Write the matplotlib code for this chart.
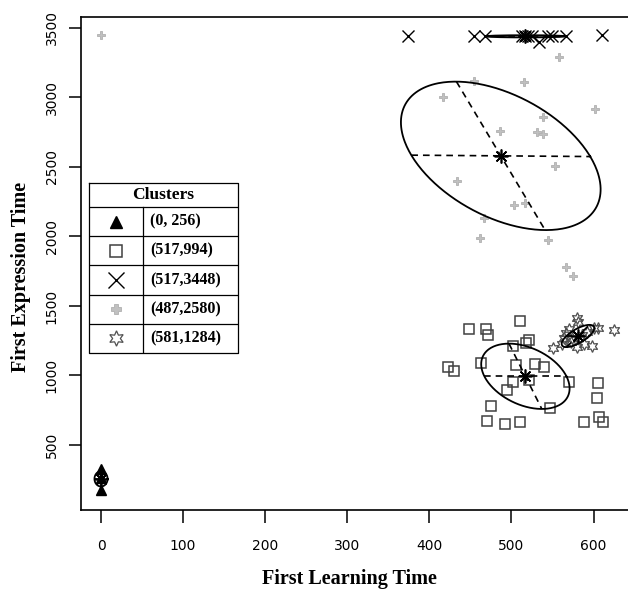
import numpy as np
import matplotlib
matplotlib.use('Agg')
import matplotlib.pyplot as plt

# datos
tri_x = [0, 0, 0]
tri_y = [175, 263, 330]

sq_x = [448, 469, 471, 511, 521, 518, 502, 463, 423, 430, 505, 529, 540, 502,
        494, 521, 570, 606, 604, 475, 547, 470, 492, 510, 589, 607, 612]
sq_y = [1332, 1332, 1291, 1394, 1255, 1231, 1212, 1088, 1059, 1035, 1075, 1083,
        1063, 955, 896, 968, 955, 948, 835, 781, 764, 675, 651, 668, 668, 699, 668]

x_x = [374, 454, 468, 513, 517, 520, 525, 534, 545, 550, 566, 610]
x_y = [3440, 3440, 3440, 3440, 3440, 3440, 3440, 3400, 3440, 3440, 3440, 3450]

gc_x = [0, 558, 454, 515, 417, 602, 539, 486, 531, 538, 553, 434, 503, 517,
        467, 462, 545, 566, 575]
gc_y = [3450, 3289, 3119, 3114, 3001, 2919, 2857, 2757, 2754, 2735, 2509, 2399,
        2229, 2239, 2135, 1990, 1972, 1780, 1716]

st_x = [580, 581, 570, 600, 605, 625, 566, 564, 574, 586, 551, 562, 580, 588,
        598, 573, 592]
st_y = [1412, 1383, 1335, 1339, 1339, 1327, 1304, 1268, 1268, 1291, 1196, 1225,
        1207, 1225, 1215, 1243, 1315]

# centros y semiejes conjugados de las elipses
centros = [(0, 256), (517, 994), (517, 3440), (487, 2580), (581, 1284)]
eje_a = [(8, 0), (50, 0), (49, 0), (109, -5), (14, 0)]
eje_b = [(0, 55), (20, -235), (0, 8), (54, -534), (14, 80)]

etiquetas = ['(0, 256)', '(517,994)', '(517,3448)', '(487,2580)', '(581,1284)']

estilos = [
    dict(marker='^', color='black', markerfacecolor='black', markersize=7),
    dict(marker='s', color='#404040', markerfacecolor='none', markersize=6.5, markeredgewidth=1.1),
    dict(marker='x', color='black', markersize=8.5, markeredgewidth=1.0),
    dict(marker='P', color='#b0b0b0', markerfacecolor='#c0c0c0', markersize=6, markeredgewidth=0.6),
    dict(marker=(6, 1, 0), color='#505050', markerfacecolor='none', markersize=8.5, markeredgewidth=0.9),
]
datos = [(tri_x, tri_y), (sq_x, sq_y), (x_x, x_y), (gc_x, gc_y), (st_x, st_y)]

fig = plt.figure(figsize=(6.28, 5.91), dpi=100)
ax = fig.add_axes([81/628, 1-510/591, 1-81/628, (510-17)/591])

for (xs, ys), est in zip(datos, estilos):
    ax.plot(xs, ys, linestyle='none', **est)

t = np.linspace(0, 2*np.pi, 300)
for c, a, b in zip(centros, eje_a, eje_b):
    c = np.array(c); a = np.array(a); b = np.array(b)
    pts = c[:, None] + np.outer(a, np.cos(t)) + np.outer(b, np.sin(t))
    ax.plot(pts[0], pts[1], color='black', lw=1.3)
    for v in (a, b):
        ax.plot([c[0]-v[0], c[0]+v[0]], [c[1]-v[1], c[1]+v[1]], color='black',
                lw=1.2, dashes=(4, 3))
    ax.plot(c[0], c[1], marker=(8, 2, 0), color='black', markersize=10, mew=1.2)

ax.set_xlim(-24.4, 642)
ax.set_ylim(32, 3579)
ax.set_xticks([0, 100, 200, 300, 400, 500, 600])
ax.set_yticks([500, 1000, 1500, 2000, 2500, 3000, 3500])
for lbl in ax.get_yticklabels():
    lbl.set_rotation(90)
    lbl.set_va('center')
ax.tick_params(length=9, width=1.1, labelsize=10, pad=7)
ax.tick_params(axis='x', pad=12)
ax.spines['right'].set_visible(False)
for s in ['left', 'bottom', 'top']:
    ax.spines[s].set_linewidth(1.2)
ax.set_xlabel('First Learning Time', fontfamily='Liberation Serif', fontweight='bold',
              fontsize=14.5)
ax.set_ylabel('First Expression Time', fontfamily='Liberation Serif', fontweight='bold',
              fontsize=14.5)
ax.xaxis.set_label_coords((349-81)/547, -(569-510)/493)
ax.yaxis.set_label_coords(-(81-31)/547, (510-277)/493)

# leyenda en forma de tabla
lg = fig.add_axes([89/628, 1-353/591, 149/628, 170/591])
lg.set_xlim(0, 149)
lg.set_ylim(170, 0)
lg.axis('off')
lg.plot([0, 149, 149, 0, 0], [0, 0, 170, 170, 0], color='black', lw=0.9, clip_on=False)
alto = (170 - 24) / 5
lg.plot([0, 149], [24, 24], color='black', lw=0.9)
lg.text(74.5, 12, 'Clusters', ha='center', va='center', fontfamily='Liberation Serif',
        fontweight='bold', fontsize=12.5)
for i, (est, et) in enumerate(zip(estilos, etiquetas)):
    y0 = 24 + i*alto
    if i > 0:
        lg.plot([0, 149], [y0, y0], color='black', lw=0.9)
    lg.plot(27, y0 + alto/2, linestyle='none', **dict(est, markersize=est['markersize']*1.3))
    lg.text(61, y0 + alto/2, et, ha='left', va='center', fontfamily='Liberation Serif',
            fontweight='bold', fontsize=11.5)
lg.plot([54, 54], [24, 170], color='black', lw=0.9)

plt.savefig('out.png', dpi=100)
